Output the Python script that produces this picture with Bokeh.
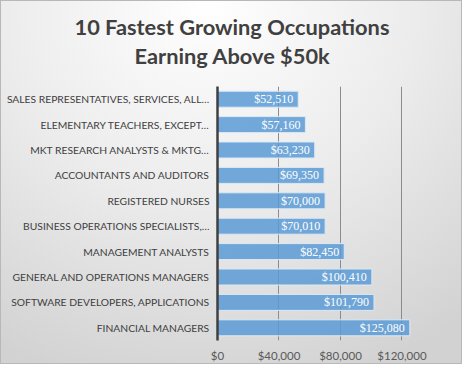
from bokeh.plotting import figure
from bokeh.models import (FactorRange, Range1d, FixedTicker, NumeralTickFormatter, LabelSet,
                          ColumnDataSource, Title, LinearAxis)
from bokeh.embed import file_html
from bokeh.resources import INLINE

occupations = [
    "SALES REPRESENTATIVES, SERVICES, ALL\u2026",
    "ELEMENTARY TEACHERS, EXCEPT\u2026",
    "MKT RESEARCH ANALYSTS & MKTG\u2026",
    "ACCOUNTANTS AND AUDITORS",
    "REGISTERED NURSES",
    "BUSINESS OPERATIONS SPECIALISTS,\u2026",
    "MANAGEMENT ANALYSTS",
    "GENERAL AND OPERATIONS MANAGERS",
    "SOFTWARE DEVELOPERS, APPLICATIONS",
    "FINANCIAL MANAGERS",
]
salaries = [52510, 57160, 63230, 69350, 70000, 70010, 82450, 100410, 101790, 125080]
x_ticks = [0, 40000, 80000, 120000]
title_lines = ["10 Fastest Growing Occupations", "Earning Above $50k"]

labels = ["${:,}".format(v) for v in salaries]
source = ColumnDataSource(dict(occ=occupations, sal=salaries, lab=labels))

FONT = "Lato"

p = figure(
    frame_width=228, frame_height=254,
    y_range=FactorRange(*reversed(occupations), range_padding=0),
    x_range=Range1d(0, 148300),
    output_backend="svg", toolbar_location=None,
    min_border_left=217, min_border_right=17, min_border_top=86, min_border_bottom=23,
)
p.background_fill_alpha = 0
p.border_fill_alpha = 0
p.outline_line_color = None
p.styles = {
    "background": "radial-gradient(ellipse 90% 110% at 45% 0%, #ffffff 0%, #ececec 50%, #d2d2d2 100%)",
    "box-shadow": "inset 0 0 0 1px #b8b8b8",
}

# bottom value axis
xa = p.below[0]
xa.ticker = FixedTicker(ticks=x_ticks)
xa.formatter = NumeralTickFormatter(format="$0,0")
xa.axis_line_color = None
xa.major_tick_line_color = None
xa.minor_tick_line_color = None
xa.major_tick_out = 0
xa.minor_tick_out = 0
xa.major_label_text_font = FONT
xa.major_label_text_font_size = "11.5px"
xa.major_label_text_color = "#595959"
xa.major_label_standoff = 8

# invisible spacer between frame and title lines (one hidden tick, empty label)
spacer = LinearAxis(ticker=FixedTicker(ticks=[0]), axis_line_color=None,
                    major_tick_line_color=None, minor_tick_line_color=None,
                    major_tick_out=18, minor_tick_out=0, major_tick_in=0, minor_tick_in=0,
                    major_label_standoff=0, major_label_text_font_size="1px",
                    major_label_text_alpha=0, major_label_overrides={0: ""})
p.add_layout(spacer, "above")

t2 = Title(text=title_lines[1], align="left", offset=-83, standoff=0,
           text_font=FONT, text_font_size="21.8px", text_font_style="bold", text_color="#404040")
t1 = Title(text=title_lines[0], align="left", offset=-143, standoff=0,
           text_font=FONT, text_font_size="21.8px", text_font_style="bold", text_color="#404040")
p.add_layout(t2, "above")
p.add_layout(t1, "above")

p.hbar(y="occ", right="sal", height=0.63, source=source,
       fill_color="#5b9bd5", fill_alpha=0.85, line_color="#dce9f5", line_width=1)

ls = LabelSet(x="sal", y="occ", text="lab", source=source, x_offset=-5,
              text_align="right", text_baseline="middle", text_color="white",
              text_font_size="12px", text_font=FONT)
p.add_layout(ls)

ya = p.left[0]
ya.axis_line_color = "#404040"
ya.axis_line_width = 2.5
ya.major_tick_line_color = None
ya.minor_tick_line_color = None
ya.major_tick_out = 0
ya.minor_tick_out = 0
ya.major_label_text_font = FONT
ya.major_label_text_font_size = "10.3px"
ya.major_label_text_color = "#404040"
ya.major_label_standoff = 8

p.ygrid.grid_line_color = None
p.xgrid.grid_line_color = "#8c8c8c"
p.xgrid.grid_line_width = 1

open("out.html", "w").write(file_html(p, INLINE))
